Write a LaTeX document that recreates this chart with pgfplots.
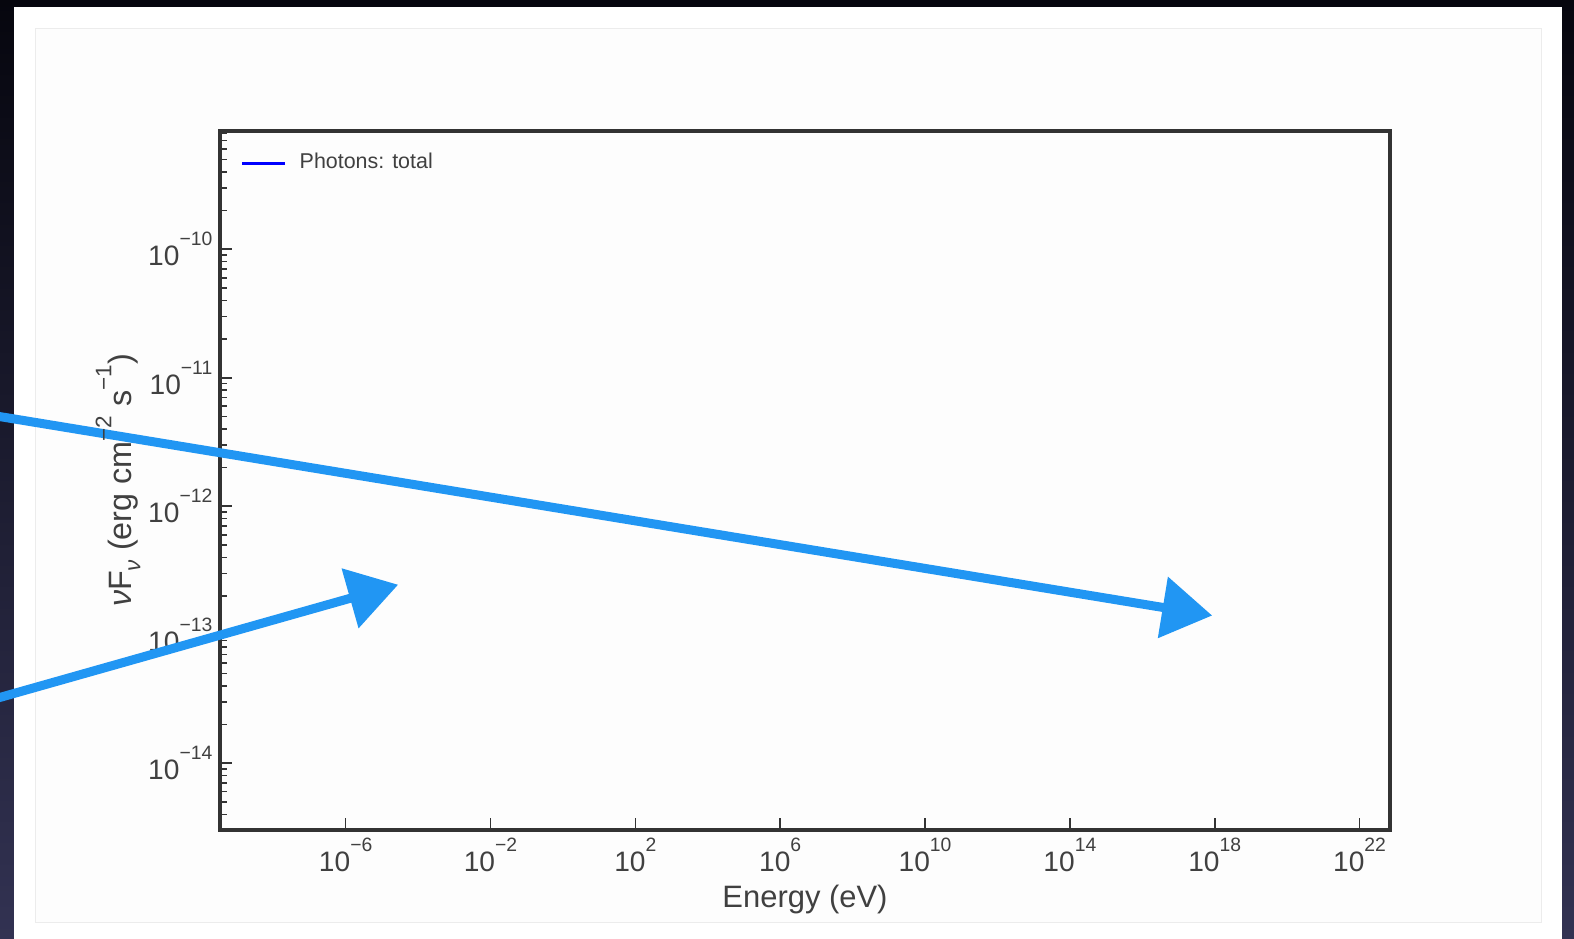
\documentclass[border=0pt]{standalone}
\usepackage{pgfplots}
\pgfplotsset{compat=1.18}
\usepackage{fontspec}
\setmainfont{Liberation Sans}
\usetikzlibrary{arrows.meta}
\definecolor{arrowblue}{RGB}{33,150,243}
\definecolor{axisgray}{RGB}{51,51,51}
\definecolor{labelgray}{RGB}{64,64,64}
\definecolor{slidedark}{RGB}{6,6,14}
\definecolor{slidenavy}{RGB}{50,50,82}
\definecolor{panelfill}{RGB}{253,253,253}
\definecolor{panelrule}{RGB}{236,236,236}
% power-of-ten label with a raised exponent
\newcommand\tp[1]{10\raisebox{0.72em}{\fontsize{5.5}{5.5}\selectfont #1}}
% raised / lowered pieces of the y label
\newcommand\up[1]{\raisebox{0.62em}{\fontsize{6.4}{6.4}\selectfont #1}}
\newcommand\dn[1]{\raisebox{-0.28em}{\fontsize{6.4}{6.4}\selectfont #1}}

\begin{document}
\begin{tikzpicture}
\useasboundingbox (0,0) rectangle (157.4mm,93.9mm);
% slide background and panel
\shade[top color=slidedark, bottom color=slidenavy] (0,0) rectangle (157.4mm,93.9mm);
\fill[white] (1.4mm,0) rectangle (156.2mm,93.2mm);
\filldraw[fill=panelfill, draw=panelrule, line width=0.1mm] (3.5mm,1.65mm) rectangle (154.1mm,91.0mm);

\begin{axis}[
  at={(22mm,10.9mm)}, anchor=south west,
  scale only axis, width=117mm, height=69.9mm,
  xmode=log, ymode=log,
  xmin=3.39e-10, xmax=6.92e22,
  ymin=3.02e-15, ymax=8.32e-10,
  clip=false,
  axis line style={axisgray, line width=0.95pt},
  tick style={axisgray, line width=0.45pt},
  major tick length=1.25mm, minor tick length=0.7mm,
  tick align=inside, tick pos=left,
  xtick={1e-6,1e-2,1e2,1e6,1e10,1e14,1e18,1e22},
  xticklabels={\tp{−6},\tp{−2},\tp{2},\tp{6},\tp{10},\tp{14},\tp{18},\tp{22}},
  minor xtick={},
  ytick={1e-14,1e-13,1e-12,1e-11,1e-10},
  yticklabels={\tp{−14},\tp{−13},\tp{−12},\tp{−11},\tp{−10}},
  minor ytick={4e-15,5e-15,6e-15,7e-15,8e-15,9e-15,
    2e-14,3e-14,4e-14,5e-14,6e-14,7e-14,8e-14,9e-14,
    2e-13,3e-13,4e-13,5e-13,6e-13,7e-13,8e-13,9e-13,
    2e-12,3e-12,4e-12,5e-12,6e-12,7e-12,8e-12,9e-12,
    2e-11,3e-11,4e-11,5e-11,6e-11,7e-11,8e-11,9e-11,
    2e-10,3e-10,4e-10,5e-10,6e-10,7e-10,8e-10},
  xticklabel style={font=\fontsize{8.0}{9}\selectfont, text=labelgray,
    inner sep=0pt, anchor=north, yshift=-0.75mm},
  yticklabel style={font=\fontsize{8.0}{9}\selectfont, text=labelgray,
    inner sep=0pt, anchor=east, xshift=-0.7mm},
  xlabel={Energy (eV)},
  ylabel={\textit{ν}F\dn{\textit{ν}} (erg cm\up{−2} s\up{−1})},
  x label style={at={(axis description cs:0.5,-0.1)}, anchor=center,
    font=\fontsize{8.8}{10}\selectfont, text=labelgray},
  y label style={at={(axis description cs:-0.0872,0.5)}, anchor=center,
    font=\fontsize{9.2}{10}\selectfont, text=labelgray},
  legend style={at={(0.0171,0.954)}, anchor=west, draw=none, fill=none,
    inner sep=0pt, font=\fontsize{6.1}{7}\selectfont, text=labelgray,
    nodes={inner sep=0pt}, column sep=1.3mm},
]
\addlegendimage{legend image code/.code={\draw[blue, line width=0.3mm] (0mm,0mm) -- (4.3mm,0mm);}}
\addlegendentry{Photons: total}

% annotation arrows
\addplot[arrowblue, line width=0.9mm, -{Triangle[length=5mm,width=6mm]}]
  coordinates {(1.51e-16,5.13e-12) (8.51e17,1.41e-13)};
\addplot[arrowblue, line width=0.9mm, -{Triangle[length=5mm,width=6mm]}]
  coordinates {(1.51e-16,3.09e-14) (2.82e-5,2.45e-13)};
\end{axis}
\end{tikzpicture}
\end{document}
